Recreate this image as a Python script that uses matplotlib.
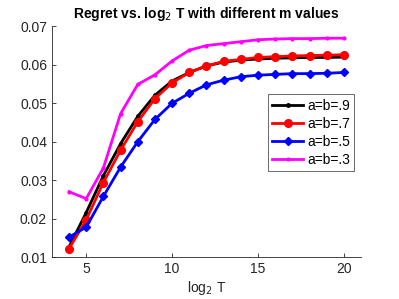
import matplotlib
matplotlib.use("Agg")
import matplotlib.pyplot as plt

plt.rcParams['font.family'] = ['Liberation Sans', 'DejaVu Sans']

log_t = list(range(4, 21))
regret_9 = [0.0127, 0.0216, 0.0312, 0.0395, 0.0466, 0.0521, 0.0558, 0.0580, 0.0597,
            0.0607, 0.0612, 0.0615, 0.0617, 0.0618, 0.0619, 0.0619, 0.0620]
regret_7 = [0.0122, 0.0197, 0.0294, 0.0378, 0.0452, 0.0512, 0.0553, 0.0580, 0.0597,
            0.0609, 0.0614, 0.0619, 0.0621, 0.0623, 0.0624, 0.0625, 0.0626]
regret_5 = [0.0152, 0.0178, 0.0258, 0.0334, 0.0400, 0.0458, 0.0500, 0.0526, 0.0548,
            0.0560, 0.0569, 0.0573, 0.0575, 0.0577, 0.0577, 0.0578, 0.0580]
regret_3 = [0.0270, 0.0252, 0.0332, 0.0473, 0.0549, 0.0574, 0.0610, 0.0638, 0.0650,
            0.0655, 0.0660, 0.0665, 0.0667, 0.0668, 0.0668, 0.0669, 0.0669]
labels = ['a=b=.9', 'a=b=.7', 'a=b=.5', 'a=b=.3']

fig = plt.figure(figsize=(3.99, 2.99), dpi=100)
ax = fig.add_axes([0.130, 0.140, 0.775, 0.772])

ax.plot(log_t, regret_9, color='black', marker='.', markersize=5, linewidth=2, label=labels[0])
ax.plot(log_t, regret_7, color='red', marker='o', markersize=5.5, linewidth=2, label=labels[1])
ax.plot(log_t, regret_5, color='blue', marker='D', markersize=4.5, linewidth=2, label=labels[2])
ax.plot(log_t, regret_3, color='magenta', marker='.', markersize=4, linewidth=2, label=labels[3])

ax.set_xlim(3, 21)
ax.set_ylim(0.01, 0.07)
ax.set_xticks([5, 10, 15, 20])
ax.set_yticks([0.01, 0.02, 0.03, 0.04, 0.05, 0.06, 0.07])
ax.set_yticklabels(['0.01', '0.02', '0.03', '0.04', '0.05', '0.06', '0.07'])
for s in ['top', 'right']:
    ax.spines[s].set_visible(False)
for s in ['left', 'bottom']:
    ax.spines[s].set_color('#262626')
    ax.spines[s].set_linewidth(0.6)
ax.tick_params(direction='in', length=3, width=0.6, colors='#262626', labelsize=10)

ax.set_xlabel('log$_2$ T', fontsize=10, color='#262626', labelpad=2)
ax.set_title('Regret vs. log$_2$ T with different m values', fontsize=10, fontweight='bold', pad=6)

leg = ax.legend(loc='upper left', bbox_to_anchor=(0.70, 0.705), fontsize=10, frameon=True,
                fancybox=False, edgecolor='#262626', handlelength=2.2, handletextpad=0.3,
                borderpad=0.3, labelspacing=0.3, borderaxespad=0)
leg.get_frame().set_linewidth(0.6)

fig.savefig('out.png', dpi=100)
